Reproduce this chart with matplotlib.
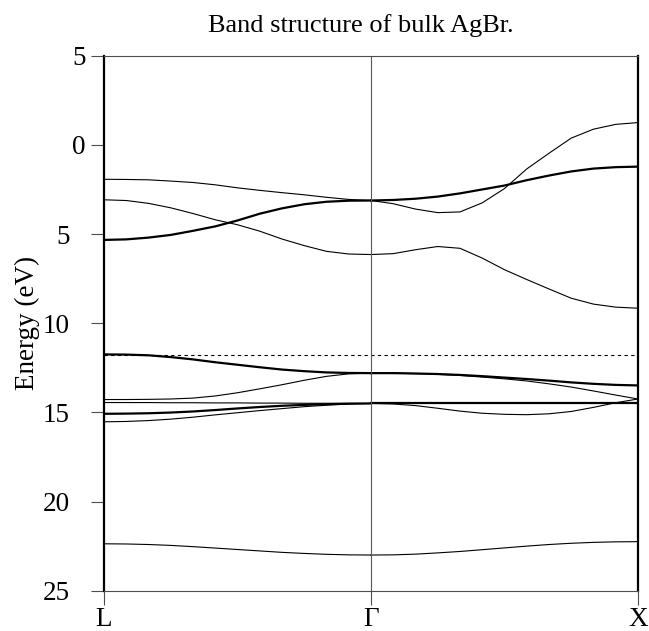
import numpy as np
import matplotlib.pyplot as plt

plt.rcParams['font.family'] = ['Liberation Serif', 'DejaVu Serif']

# high-symmetry points along the path
k_ticks = [0, 1, 2]
k_labels = ['L', 'Γ', 'X']
# sample positions along each segment (fraction of segment)
k_seg = np.linspace(0, 1, 13)

fermi = -11.76

# L -> Gamma segment, energies in eV
lg_a = [-1.93, -1.94, -1.96, -2.03, -2.11, -2.24, -2.41, -2.55, -2.68, -2.80, -2.94, -3.06, -3.12]
lg_b = [-3.08, -3.12, -3.28, -3.53, -3.85, -4.20, -4.48, -4.84, -5.28, -5.65, -5.97, -6.12, -6.15]
lg_c = [-5.33, -5.30, -5.20, -5.05, -4.82, -4.57, -4.24, -3.86, -3.56, -3.33, -3.19, -3.13, -3.12]
lg_d = [-11.75, -11.76, -11.80, -11.90, -12.03, -12.19, -12.33, -12.47, -12.60, -12.69, -12.76, -12.79, -12.80]
lg_e = [-14.28, -14.28, -14.27, -14.25, -14.20, -14.08, -13.90, -13.68, -13.45, -13.20, -12.98, -12.84, -12.80]
lg_f = [-14.45, -14.45, -14.45, -14.46, -14.46, -14.47, -14.47, -14.48, -14.48, -14.49, -14.49, -14.50, -14.50]
lg_g = [-15.08, -15.07, -15.05, -15.01, -14.95, -14.87, -14.78, -14.70, -14.63, -14.58, -14.54, -14.51, -14.50]
lg_h = [-15.53, -15.51, -15.46, -15.38, -15.27, -15.14, -15.02, -14.90, -14.79, -14.68, -14.60, -14.53, -14.50]
lg_s = [-22.37, -22.38, -22.41, -22.46, -22.53, -22.61, -22.69, -22.77, -22.85, -22.91, -22.96, -22.99, -23.00]

# Gamma -> X segment
gx_a = [-3.12, -3.30, -3.60, -3.80, -3.76, -3.25, -2.45, -1.35, -0.47, 0.38, 0.88, 1.15, 1.25]
gx_c = [-3.12, -3.09, -3.02, -2.90, -2.72, -2.50, -2.28, -1.98, -1.72, -1.49, -1.33, -1.25, -1.22]
gx_b = [-6.15, -6.10, -5.88, -5.70, -5.80, -6.35, -7.00, -7.55, -8.08, -8.60, -8.93, -9.10, -9.16]
gx_d = [-12.80, -12.80, -12.82, -12.85, -12.90, -12.97, -13.05, -13.13, -13.22, -13.32, -13.40, -13.46, -13.49]
gx_e = [-12.80, -12.80, -12.83, -12.87, -12.93, -13.02, -13.12, -13.24, -13.40, -13.58, -13.80, -14.03, -14.25]
gx_g = [-14.50, -14.50, -14.50, -14.50, -14.50, -14.50, -14.50, -14.50, -14.50, -14.50, -14.50, -14.50, -14.50]
gx_h = [-14.50, -14.53, -14.62, -14.77, -14.93, -15.05, -15.11, -15.13, -15.08, -14.95, -14.72, -14.46, -14.25]
gx_s = [-23.00, -22.99, -22.95, -22.88, -22.80, -22.70, -22.60, -22.50, -22.41, -22.34, -22.29, -22.26, -22.25]

y_ticks = [5, 0, -5, -10, -15, -20, -25]

thin = 0.8
thick = 1.6
bands_lg = [(lg_a, thin), (lg_b, thin), (lg_c, thick), (lg_d, thick), (lg_e, thin),
            (lg_f, thin), (lg_g, thick), (lg_h, thin), (lg_s, thin)]
bands_gx = [(gx_a, thin), (gx_c, thick), (gx_b, thin), (gx_d, thick), (gx_e, thin),
            (gx_g, thick), (gx_h, thin), (gx_s, thin)]

fig = plt.figure(figsize=(6.49, 6.31), dpi=100)
ax = fig.add_axes([104/649, 1 - 590.7/631, 534/649, 535/631])

for e, lw in bands_lg:
    ax.plot(k_ticks[0] + k_seg, e, color='black', lw=lw)
for e, lw in bands_gx:
    ax.plot(k_ticks[1] + k_seg, e, color='black', lw=lw)

ax.axhline(fermi, color='black', lw=0.8, ls=(0, (3, 3)))
ax.axvline(k_ticks[1], color='0.35', lw=0.8)

ax.set_xlim(0, 2)
ax.set_ylim(-25, 5)
ax.set_xticks(k_ticks)
ax.set_xticklabels(k_labels, fontsize=19.5)
ax.set_yticks(y_ticks)
ax.set_yticklabels([str(abs(v)) for v in y_ticks], fontsize=19.5)
ax.tick_params(axis='y', direction='out', length=9.6, width=0.8, color='0.3')
ax.tick_params(axis='x', direction='out', length=10, width=0.8, color='0.3', pad=1.5)
for t, v in zip(ax.yaxis.get_major_ticks(), y_ticks):
    t.set_pad(3.4 if v >= 0 else 15)

for side in ['top', 'bottom']:
    ax.spines[side].set_linewidth(0.8)
    ax.spines[side].set_color('0.3')
for side in ['left', 'right']:
    ax.spines[side].set_linewidth(1.6)
    ax.spines[side].set_color('black')

ax.set_ylabel('Energy (eV)', fontsize=19.5)
ax.yaxis.set_label_coords(-0.12, 0.5)
ax.set_title('Band structure of bulk AgBr.', fontsize=19, pad=17, x=0.48)

fig.savefig('out.png', dpi=100)
